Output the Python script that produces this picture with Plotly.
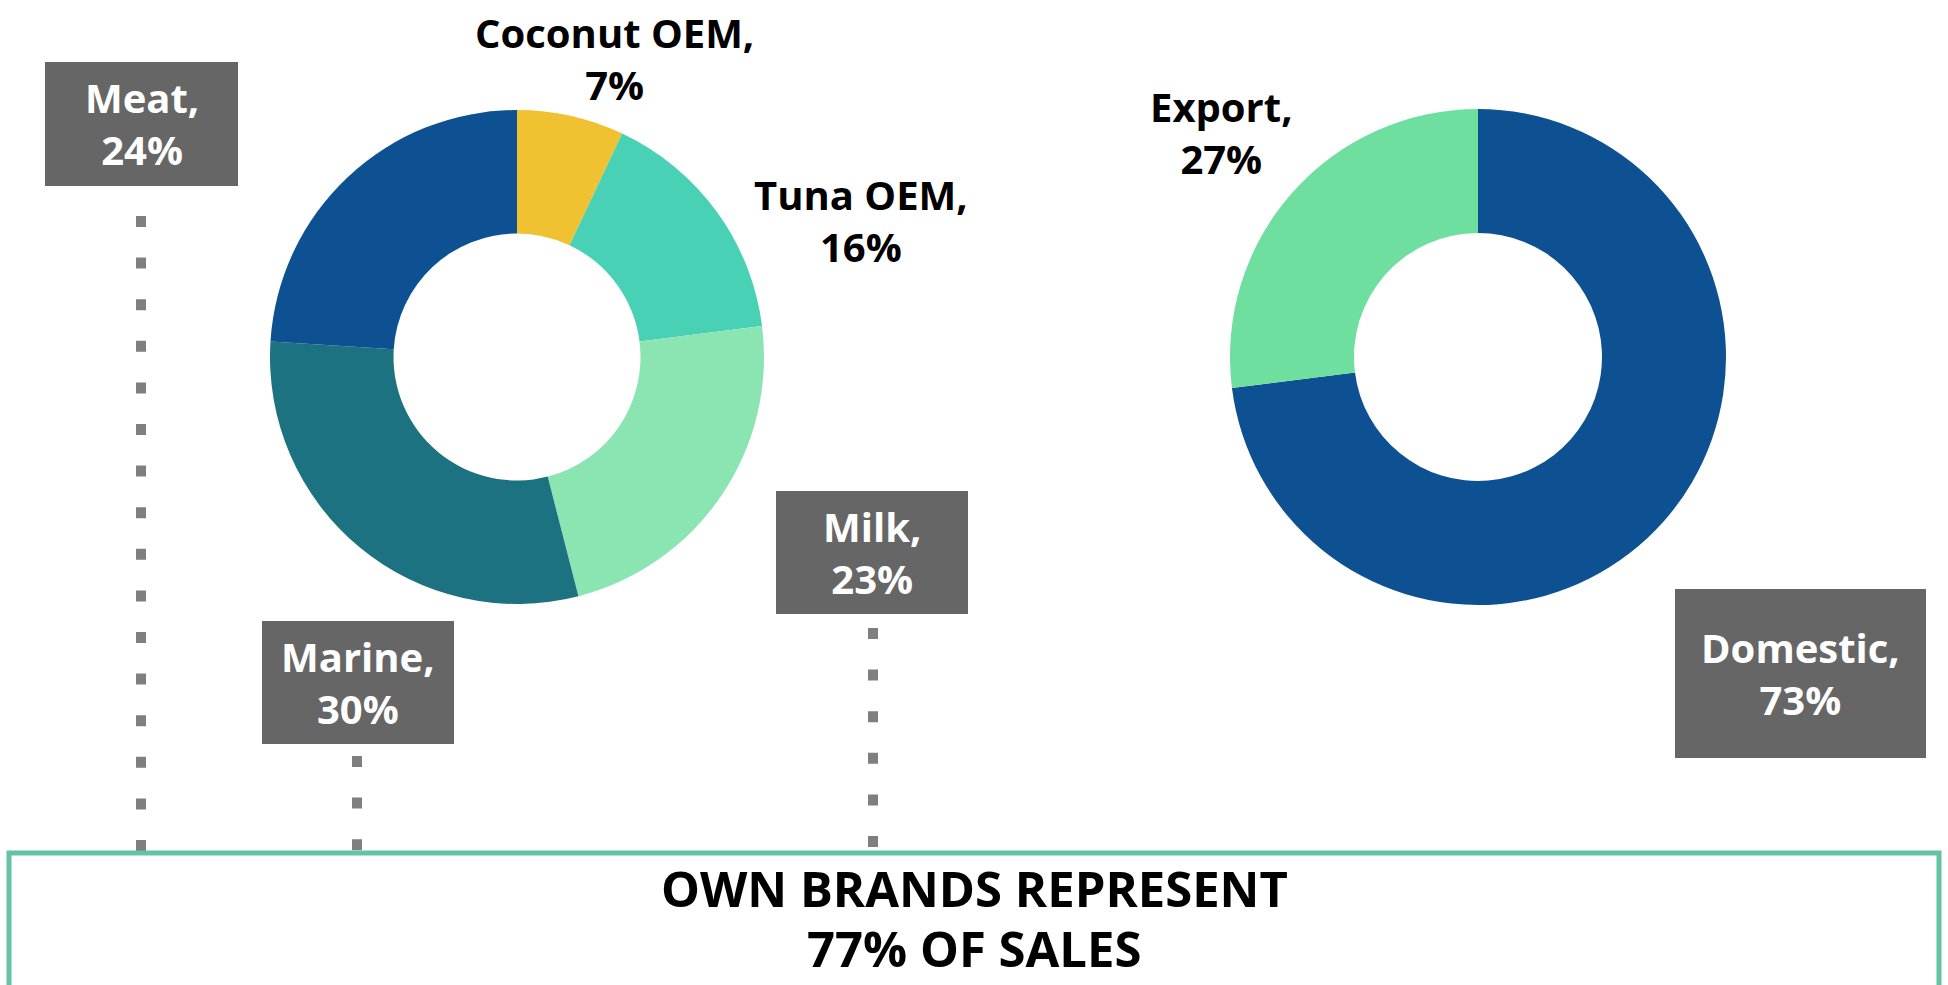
import plotly.graph_objects as go

# Sales split by product line (left donut), clockwise from 12 o'clock
product_names = ["Coconut OEM", "Tuna OEM", "Milk", "Marine", "Meat"]
product_shares = [7, 16, 23, 30, 24]
product_colors = ["#F0C232", "#48D1B4", "#8BE5B2", "#1D7282", "#0E5192"]

# Sales split by market (right donut), clockwise from 12 o'clock
market_names = ["Domestic", "Export"]
market_shares = [73, 27]
market_colors = ["#0E5192", "#6FDFA0"]

headline_lines = ["OWN BRANDS REPRESENT", "77% OF SALES"]

W, H = 1948, 985
FONT = "Open Sans"


def px(x):
    return x / W


def py(y):
    return 1 - y / H


def donut_domain(cx, cy, r):
    return dict(x=[px(cx - r), px(cx + r)], y=[py(cy + r), py(cy - r)])


fig = go.Figure()

fig.add_trace(go.Pie(
    labels=product_names, values=product_shares,
    marker=dict(colors=product_colors, line=dict(width=0)),
    hole=0.5, sort=False, direction="clockwise", rotation=0,
    textinfo="none", hoverinfo="label+percent",
    domain=donut_domain(517, 357, 247), showlegend=False,
))

fig.add_trace(go.Pie(
    labels=market_names, values=market_shares,
    marker=dict(colors=market_colors, line=dict(width=0)),
    hole=0.5, sort=False, direction="clockwise", rotation=0,
    textinfo="none", hoverinfo="label+percent",
    domain=donut_domain(1478, 357, 248), showlegend=False,
))

shares = dict(zip(product_names + market_names, product_shares + market_shares))


def label_text(name):
    return f"{name},<br>{shares[name]}%"


# Plain black callouts beside the rings: (name, centre x, centre y)
plain_labels = [
    ("Coconut OEM", 614, 58),
    ("Tuna OEM", 861, 220),
    ("Export", 1221, 133),
]

# Grey callout boxes: (name, x0, y0, x1, y1)
boxed_labels = [
    ("Meat", 45, 62, 238, 186),
    ("Marine", 262, 621, 454, 744),
    ("Milk", 776, 491, 968, 614),
    ("Domestic", 1675, 589, 1926, 758),
]

# Dotted leaders under the boxes: (x, y top, y bottom)
leaders = [
    (141, 216, 852),
    (357, 756, 852),
    (873, 628, 852),
]

shapes = []
annotations = []

for name, cx, cy in plain_labels:
    annotations.append(dict(
        text=label_text(name), x=px(cx), y=py(cy), xref="paper", yref="paper",
        xanchor="center", yanchor="middle", showarrow=False, align="center",
        font=dict(family=FONT, size=40, color="#000000", weight=700),
    ))

for name, x0, y0, x1, y1 in boxed_labels:
    shapes.append(dict(
        type="rect", xref="paper", yref="paper",
        x0=px(x0), x1=px(x1), y0=py(y1), y1=py(y0),
        fillcolor="#666666", line=dict(width=0), layer="above",
    ))
    annotations.append(dict(
        text=label_text(name), x=px((x0 + x1) / 2), y=py((y0 + y1) / 2),
        xref="paper", yref="paper", xanchor="center", yanchor="middle",
        showarrow=False, align="center",
        font=dict(family=FONT, size=40, color="#FFFFFF", weight=700),
    ))

for x, y0, y1 in leaders:
    shapes.append(dict(
        type="line", xref="paper", yref="paper",
        x0=px(x), x1=px(x), y0=py(y0), y1=py(y1),
        line=dict(color="#7F7F7F", width=10, dash="11px,30.6px"),
    ))

# Headline frame along the bottom edge
shapes.append(dict(
    type="rect", xref="paper", yref="paper",
    x0=px(9), x1=px(1939), y0=-0.05, y1=py(853),
    line=dict(color="#66C2A5", width=5), fillcolor="rgba(0,0,0,0)",
))

for line, cy in zip(headline_lines, [888, 948]):
    annotations.append(dict(
        text=line, x=px(974), y=py(cy), xref="paper", yref="paper",
        xanchor="center", yanchor="middle", showarrow=False,
        font=dict(family=FONT, size=49, color="#000000", weight=700),
    ))

fig.update_layout(
    width=W, height=H,
    margin=dict(l=0, r=0, t=0, b=0),
    paper_bgcolor="#FFFFFF", plot_bgcolor="#FFFFFF",
    shapes=shapes, annotations=annotations,
    showlegend=False,
)

fig.write_html("out.html")
